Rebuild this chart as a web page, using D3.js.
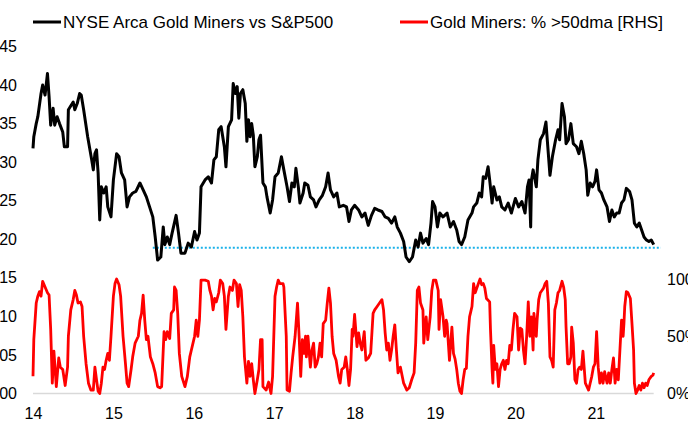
<!DOCTYPE html>
<html><head><meta charset="utf-8">
<script src="https://cdn.jsdelivr.net/npm/d3@7"></script>
<style>
html,body{margin:0;padding:0;background:#fff;overflow:hidden}
svg{display:block;font-family:"Liberation Sans",Arial,sans-serif}
</style></head>
<body><svg id="c" width="688" height="427"></svg>
<script>
// ---- data ----
const legendLabels = ["NYSE Arca Gold Miners vs S&P500", "Gold Miners: % >50dma [RHS]"];
const xTickYears = [2014, 2015, 2016, 2017, 2018, 2019, 2020, 2021];
const leftTicks = [0, 0.05, 0.10, 0.15, 0.20, 0.25, 0.30, 0.35, 0.40, 0.45];
const rightTicks = [0, 50, 100];
const supportLevel = 0.189;
const supportRange = [2015.49, 2021.81];

const blackT = [2014.00,2014.01,2014.04,2014.06,2014.10,2014.12,2014.15,2014.18,2014.20,2014.22,2014.25,2014.27,2014.30,2014.33,2014.37,2014.39,2014.43,2014.44,2014.50,2014.52,2014.55,2014.58,2014.60,2014.63,2014.68,2014.73,2014.75,2014.77,2014.79,2014.81,2014.83,2014.85,2014.88,2014.91,2014.93,2014.97,2015.00,2015.04,2015.07,2015.10,2015.14,2015.17,2015.20,2015.24,2015.28,2015.33,2015.37,2015.41,2015.45,2015.49,2015.52,2015.55,2015.59,2015.62,2015.64,2015.67,2015.70,2015.73,2015.78,2015.81,2015.84,2015.89,2015.93,2015.97,2016.01,2016.04,2016.07,2016.09,2016.14,2016.18,2016.22,2016.25,2016.28,2016.31,2016.34,2016.38,2016.40,2016.43,2016.47,2016.49,2016.52,2016.54,2016.56,2016.58,2016.61,2016.64,2016.66,2016.68,2016.70,2016.72,2016.74,2016.76,2016.79,2016.81,2016.83,2016.86,2016.89,2016.91,2016.95,2016.98,2017.01,2017.05,2017.09,2017.12,2017.16,2017.19,2017.22,2017.25,2017.27,2017.30,2017.32,2017.36,2017.38,2017.42,2017.45,2017.49,2017.52,2017.56,2017.60,2017.64,2017.67,2017.70,2017.74,2017.78,2017.81,2017.86,2017.90,2017.93,2017.96,2018.00,2018.05,2018.09,2018.13,2018.17,2018.21,2018.25,2018.29,2018.34,2018.38,2018.42,2018.46,2018.50,2018.53,2018.57,2018.61,2018.64,2018.68,2018.72,2018.76,2018.79,2018.82,2018.85,2018.89,2018.92,2018.95,2018.97,2019.00,2019.03,2019.06,2019.10,2019.15,2019.19,2019.23,2019.27,2019.30,2019.33,2019.37,2019.41,2019.46,2019.48,2019.52,2019.55,2019.58,2019.60,2019.63,2019.66,2019.68,2019.71,2019.73,2019.77,2019.80,2019.83,2019.87,2019.91,2019.95,2020.00,2020.04,2020.08,2020.12,2020.15,2020.17,2020.19,2020.20,2020.22,2020.26,2020.28,2020.31,2020.35,2020.38,2020.40,2020.43,2020.46,2020.50,2020.53,2020.55,2020.58,2020.61,2020.63,2020.66,2020.69,2020.72,2020.76,2020.79,2020.82,2020.85,2020.88,2020.90,2020.93,2020.96,2020.99,2021.01,2021.04,2021.07,2021.10,2021.14,2021.17,2021.20,2021.23,2021.26,2021.29,2021.32,2021.35,2021.38,2021.42,2021.45,2021.48,2021.51,2021.54,2021.57,2021.60,2021.63,2021.66,2021.69,2021.72];
const blackV = [0.318,0.333,0.350,0.359,0.389,0.400,0.387,0.415,0.385,0.348,0.370,0.348,0.359,0.350,0.339,0.320,0.320,0.368,0.378,0.368,0.376,0.389,0.387,0.368,0.333,0.303,0.290,0.311,0.316,0.286,0.225,0.268,0.260,0.268,0.242,0.229,0.277,0.311,0.307,0.286,0.277,0.242,0.255,0.260,0.262,0.273,0.264,0.255,0.242,0.229,0.203,0.173,0.177,0.216,0.193,0.203,0.193,0.208,0.231,0.208,0.182,0.182,0.195,0.190,0.210,0.199,0.208,0.268,0.277,0.281,0.273,0.303,0.307,0.342,0.346,0.320,0.294,0.346,0.355,0.402,0.389,0.398,0.357,0.389,0.394,0.376,0.327,0.355,0.333,0.350,0.335,0.294,0.307,0.329,0.335,0.273,0.268,0.255,0.234,0.251,0.281,0.286,0.307,0.290,0.268,0.249,0.273,0.268,0.292,0.268,0.247,0.260,0.273,0.270,0.255,0.251,0.242,0.251,0.257,0.268,0.286,0.264,0.255,0.260,0.242,0.244,0.242,0.223,0.238,0.244,0.238,0.229,0.234,0.218,0.231,0.240,0.238,0.236,0.229,0.227,0.221,0.229,0.216,0.208,0.197,0.177,0.171,0.177,0.199,0.190,0.208,0.195,0.201,0.193,0.221,0.249,0.242,0.216,0.234,0.229,0.234,0.216,0.223,0.212,0.197,0.193,0.203,0.225,0.234,0.242,0.247,0.260,0.255,0.281,0.279,0.294,0.277,0.247,0.268,0.251,0.255,0.242,0.238,0.247,0.234,0.253,0.242,0.249,0.234,0.268,0.277,0.216,0.277,0.290,0.268,0.303,0.329,0.337,0.352,0.324,0.283,0.307,0.329,0.342,0.329,0.376,0.359,0.324,0.329,0.350,0.324,0.320,0.311,0.327,0.311,0.290,0.257,0.273,0.268,0.275,0.290,0.264,0.260,0.251,0.242,0.223,0.238,0.229,0.234,0.234,0.247,0.251,0.266,0.262,0.251,0.221,0.216,0.221,0.212,0.203,0.199,0.197,0.199,0.193];

const redT = [2014.00,2014.01,2014.04,2014.06,2014.08,2014.10,2014.12,2014.15,2014.18,2014.20,2014.22,2014.24,2014.26,2014.29,2014.32,2014.34,2014.37,2014.40,2014.43,2014.44,2014.47,2014.50,2014.52,2014.54,2014.56,2014.59,2014.61,2014.63,2014.66,2014.69,2014.72,2014.75,2014.77,2014.79,2014.81,2014.83,2014.85,2014.87,2014.89,2014.91,2014.93,2014.95,2014.97,2015.00,2015.02,2015.04,2015.07,2015.09,2015.12,2015.15,2015.17,2015.19,2015.22,2015.24,2015.27,2015.31,2015.33,2015.35,2015.37,2015.39,2015.41,2015.43,2015.46,2015.49,2015.52,2015.55,2015.58,2015.60,2015.63,2015.65,2015.67,2015.70,2015.72,2015.75,2015.76,2015.78,2015.80,2015.82,2015.85,2015.89,2015.92,2015.95,2015.97,2015.99,2016.01,2016.03,2016.05,2016.07,2016.09,2016.14,2016.18,2016.20,2016.22,2016.24,2016.26,2016.28,2016.31,2016.33,2016.36,2016.38,2016.40,2016.43,2016.45,2016.48,2016.50,2016.53,2016.55,2016.57,2016.59,2016.61,2016.63,2016.66,2016.68,2016.70,2016.72,2016.74,2016.76,2016.79,2016.81,2016.83,2016.85,2016.86,2016.90,2016.93,2016.96,2016.98,2017.01,2017.03,2017.05,2017.07,2017.11,2017.12,2017.15,2017.16,2017.19,2017.21,2017.23,2017.26,2017.29,2017.31,2017.33,2017.35,2017.37,2017.39,2017.40,2017.42,2017.45,2017.47,2017.49,2017.51,2017.53,2017.55,2017.57,2017.59,2017.61,2017.64,2017.66,2017.68,2017.70,2017.72,2017.74,2017.77,2017.80,2017.82,2017.84,2017.87,2017.89,2017.91,2017.93,2017.95,2017.97,2017.98,2018.00,2018.03,2018.05,2018.07,2018.09,2018.12,2018.14,2018.17,2018.20,2018.23,2018.25,2018.28,2018.31,2018.34,2018.36,2018.38,2018.40,2018.42,2018.44,2018.46,2018.48,2018.50,2018.52,2018.54,2018.57,2018.61,2018.65,2018.68,2018.71,2018.74,2018.76,2018.78,2018.80,2018.82,2018.85,2018.86,2018.89,2018.91,2018.94,2018.96,2018.98,2019.01,2019.04,2019.05,2019.07,2019.10,2019.12,2019.14,2019.15,2019.18,2019.21,2019.23,2019.25,2019.27,2019.29,2019.31,2019.33,2019.35,2019.37,2019.39,2019.41,2019.43,2019.44,2019.46,2019.48,2019.50,2019.52,2019.54,2019.56,2019.58,2019.60,2019.62,2019.64,2019.68,2019.69,2019.71,2019.72,2019.73,2019.75,2019.77,2019.79,2019.81,2019.83,2019.85,2019.87,2019.89,2019.91,2019.93,2019.95,2019.97,2019.99,2020.02,2020.04,2020.06,2020.08,2020.10,2020.12,2020.14,2020.16,2020.18,2020.20,2020.22,2020.23,2020.26,2020.27,2020.29,2020.31,2020.33,2020.35,2020.37,2020.39,2020.41,2020.43,2020.45,2020.47,2020.49,2020.51,2020.53,2020.55,2020.58,2020.60,2020.62,2020.63,2020.65,2020.67,2020.69,2020.70,2020.72,2020.74,2020.76,2020.78,2020.80,2020.82,2020.84,2020.87,2020.89,2020.91,2020.93,2020.95,2020.97,2020.99,2021.01,2021.03,2021.05,2021.07,2021.09,2021.11,2021.14,2021.16,2021.18,2021.20,2021.22,2021.24,2021.26,2021.28,2021.30,2021.32,2021.34,2021.35,2021.36,2021.38,2021.40,2021.43,2021.45,2021.47,2021.48,2021.50,2021.52,2021.54,2021.56,2021.58,2021.60,2021.62,2021.64,2021.66,2021.69,2021.71,2021.72];
const redV = [15,47,79,85,89,85,98,93,88,86,56,9,37,6,31,23,21,7,23,50,73,82,90,86,79,80,76,50,26,9,3,3,23,12,2,0,9,23,21,29,35,29,50,85,96,100,95,85,50,26,9,6,21,32,44,50,64,70,86,64,47,50,32,26,18,6,5,6,54,47,54,48,70,73,93,90,70,35,15,6,15,32,38,44,50,64,50,64,99,99,98,90,85,73,83,80,88,99,96,85,56,85,93,90,99,96,76,95,90,67,32,9,28,15,26,12,0,12,21,47,47,6,3,10,0,15,85,93,99,96,96,93,50,3,2,18,32,50,79,50,15,47,35,50,32,50,23,38,44,23,26,32,44,32,61,64,79,92,79,50,35,29,15,9,21,23,32,21,7,21,56,50,69,41,53,44,38,54,29,31,35,70,73,76,79,82,73,53,38,44,29,38,50,60,38,18,23,9,3,5,12,18,44,90,93,79,73,44,67,47,67,90,99,99,90,56,82,67,50,64,61,29,58,35,30,21,9,2,0,12,21,22,50,67,70,76,96,88,92,96,100,95,96,92,83,80,56,21,9,42,21,26,6,21,26,29,21,29,26,42,38,56,70,67,38,57,56,38,26,50,80,50,67,38,70,50,64,82,88,90,92,96,98,79,32,29,23,73,79,88,90,98,93,82,58,26,26,32,58,44,12,9,21,23,21,37,9,6,3,9,15,23,26,54,23,9,18,9,19,9,18,9,21,31,9,21,12,38,64,50,61,76,89,88,83,61,38,9,0,3,7,3,9,5,9,7,12,15,16,18];

// ---- chart ----
const svg = d3.select("#c");
const FONT = "Liberation Sans, Arial, sans-serif";
const x = d3.scaleLinear().domain([2014, 2022]).range([33, 676.2]);
const yL = d3.scaleLinear().domain([0, 0.45]).range([393.5, 46.5]);
const yR = d3.scaleLinear().domain([0, 100]).range([393.5, 279]);

// left axis (the leading "0." falls outside the picture in the reference)
const gL = svg.append("g").attr("transform", "translate(17,0)")
  .call(d3.axisLeft(yL).tickValues(leftTicks).tickSize(0).tickPadding(0)
    .tickFormat(d => d3.format(".2f")(d).slice(2)));
gL.select(".domain").remove();
gL.selectAll("text").attr("font-size", 16).attr("fill", "#000").attr("font-family", FONT);

// right axis
const gR = svg.append("g").attr("transform", "translate(667,0)")
  .call(d3.axisRight(yR).tickValues(rightTicks).tickSize(0).tickPadding(0).tickFormat(d => d + "%"));
gR.select(".domain").remove();
gR.selectAll("text").attr("font-size", 16).attr("fill", "#000").attr("font-family", FONT);

// bottom axis
const gB = svg.append("g").attr("transform", "translate(0,393.5)")
  .call(d3.axisBottom(x).tickValues(xTickYears).tickSize(0).tickPadding(14).tickFormat(d => String(d).slice(2)));
gB.select(".domain").remove();
gB.selectAll("text").attr("font-size", 16).attr("fill", "#000").attr("font-family", FONT);

// baseline under red series
svg.append("line")
  .attr("x1", x(2014)).attr("x2", x(redT[redT.length - 1]))
  .attr("y1", yR(0)).attr("y2", yR(0))
  .attr("stroke", "#d9d9d9").attr("stroke-width", 1.5);

// red series
const redData = redT.map((t, i) => [t, redV[i]]);
svg.append("path").datum(redData)
  .attr("fill", "none").attr("stroke", "#ff0000").attr("stroke-width", 2.8)
  .attr("stroke-linejoin", "round")
  .attr("d", d3.line().x(d => x(d[0])).y(d => yR(d[1])));

// support dotted line
svg.append("line")
  .attr("x1", x(supportRange[0])).attr("x2", x(supportRange[1]))
  .attr("y1", yL(supportLevel)).attr("y2", yL(supportLevel))
  .attr("stroke", "#1ab2ea").attr("stroke-width", 2).attr("stroke-dasharray", "2,2");

// black series
const blackData = blackT.map((t, i) => [t, blackV[i]]);
svg.append("path").datum(blackData)
  .attr("fill", "none").attr("stroke", "#000").attr("stroke-width", 3)
  .attr("stroke-linejoin", "round")
  .attr("d", d3.line().x(d => x(d[0])).y(d => yL(d[1])));

// legend
const leg = [
  {label: legendLabels[0], color: "#000", x0: 33},
  {label: legendLabels[1], color: "#ff0000", x0: 400}
];
leg.forEach(l => {
  svg.append("line").attr("x1", l.x0).attr("x2", l.x0 + 28).attr("y1", 22).attr("y2", 22)
    .attr("stroke", l.color).attr("stroke-width", 3);
  svg.append("text").attr("x", l.x0 + 30).attr("y", 22).attr("dy", "0.35em")
    .attr("font-size", 17).attr("font-family", FONT).attr("fill", "#000").text(l.label);
});
</script></body></html>
